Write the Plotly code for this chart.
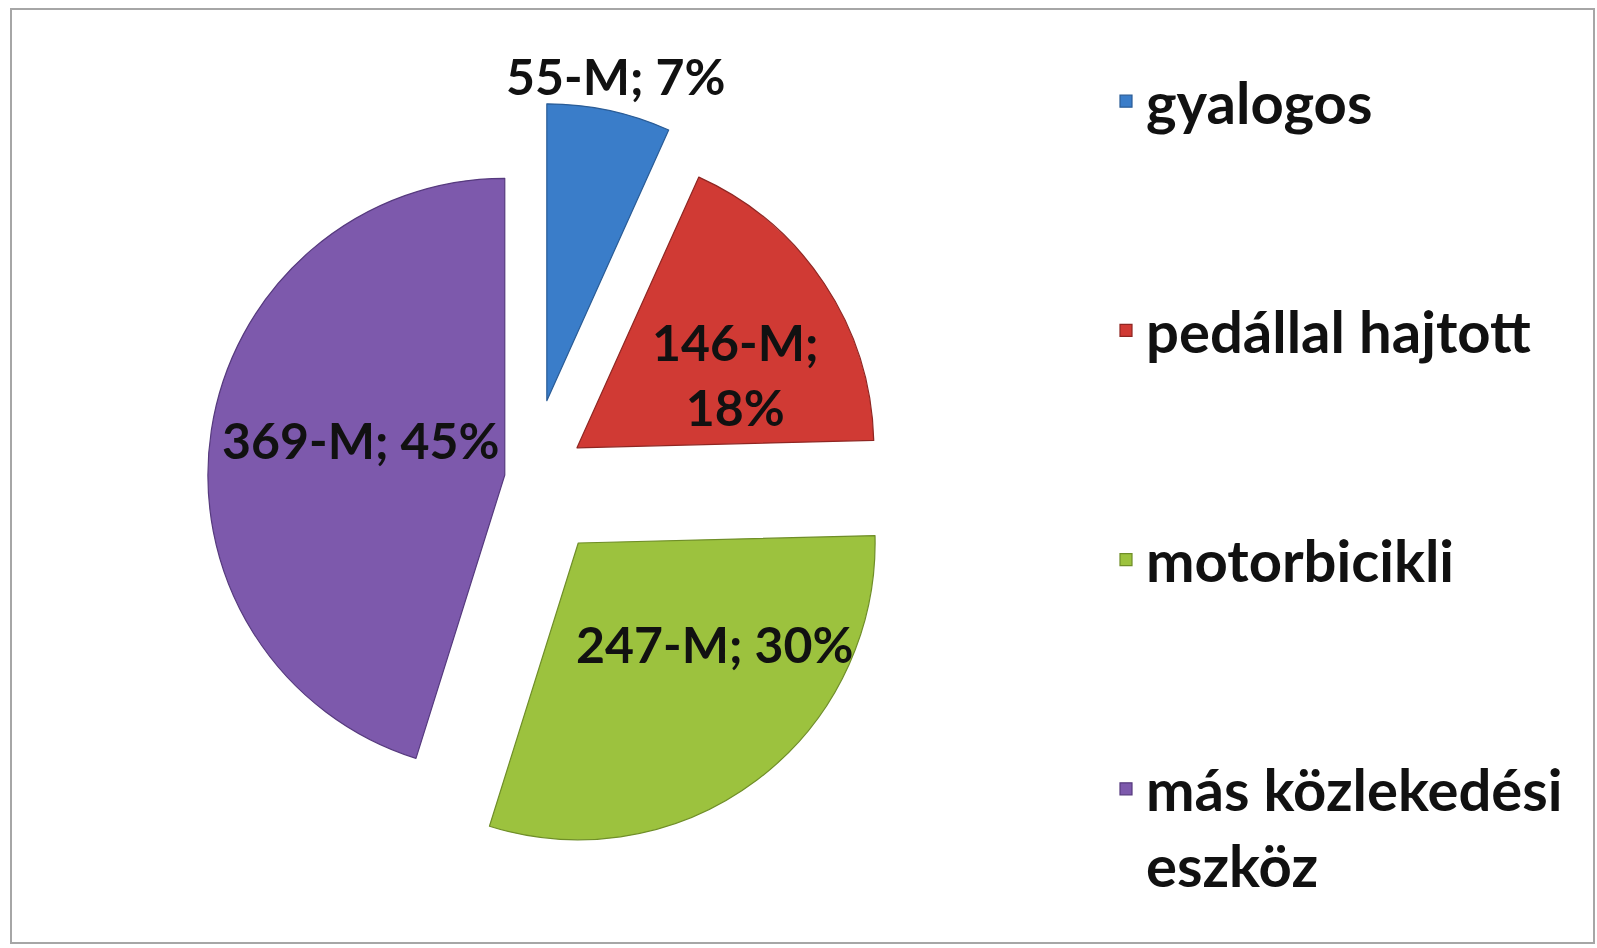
import math
import plotly.graph_objects as go

# ---- data ----
categories = ["gyalogos", "pedállal hajtott", "motorbicikli", "más közlekedési<br>eszköz"]
values = [55, 146, 247, 369]
unit = "M"
value_pct_sep = [" ", "<br>", " ", " "]

# ---- style ----
colors = ["#3A7DC9", "#D03A34", "#9CC23E", "#7D59AC"]
edge_colors = ["#2A5C96", "#8F2622", "#6F8E28", "#563A7E"]
pulls = [0.27, 0.19, 0.27, 0.086]
# label placement relative to each (pulled) slice tip: radius fraction and angle offset (deg)
label_rho = [1.118, 0.586, 0.572, 0.50]
label_dtheta = [0.0, 8.8, -16.6, 4.9]

W, H = 1597, 948
DOM_X = [153 / W, 907 / W]
DOM_Y = [92 / H, 846 / H]

total = sum(values)
texts = [f"{v}-{unit};{sep}{round(100 * v / total)}%" for v, sep in zip(values, value_pct_sep)]

# pad legend entries (except the last) so the entries are spaced like the original
LEGEND_LINES = 3
legend_labels = [
    c + ("<br> " * (LEGEND_LINES - 1 - c.count("<br>")) if i < len(categories) - 1 else "")
    for i, c in enumerate(categories)
]

fig = go.Figure(
    go.Pie(
        labels=legend_labels,
        values=values,
        sort=False,
        direction="clockwise",
        rotation=0,
        pull=pulls,
        textinfo="none",
        marker=dict(colors=colors, line=dict(color=edge_colors, width=1.2)),
        domain=dict(x=DOM_X, y=DOM_Y),
        hoverinfo="skip",
    )
)

# ---- data labels, placed with the same geometry plotly uses for the pie ----
cx = W * (DOM_X[0] + DOM_X[1]) / 2
cy = H * (1 - (DOM_Y[0] + DOM_Y[1]) / 2)
r = min(W * (DOM_X[1] - DOM_X[0]), H * (DOM_Y[1] - DOM_Y[0])) / (2 + 2 * max(pulls))

annotations = []
cum = 0.0
for v, t, p, rho, dth in zip(values, texts, pulls, label_rho, label_dtheta):
    mid = (cum + v / 2) / total * 360.0
    cum += v
    a = math.radians(mid)
    tipx = cx + p * r * math.sin(a)
    tipy = cy - p * r * math.cos(a)
    b = math.radians(mid + dth)
    lx = tipx + rho * r * math.sin(b)
    ly = tipy - rho * r * math.cos(b)
    annotations.append(
        dict(
            x=lx / W, y=1 - ly / H, xref="paper", yref="paper",
            text=t, showarrow=False, xanchor="center", yanchor="middle", align="center",
            font=dict(family="Lato", size=50, color="#111111", weight="bold"),
        )
    )

fig.update_layout(
    width=W,
    height=H,
    autosize=False,
    margin=dict(l=0, r=0, t=0, b=0, autoexpand=False),
    paper_bgcolor="white",
    plot_bgcolor="white",
    showlegend=True,
    legend=dict(
        x=1106 / W,
        y=1 - 57 / H,
        xanchor="left",
        yanchor="top",
        valign="top",
        maxheight=940,
        bgcolor="rgba(0,0,0,0)",
        font=dict(family="Lato", size=58, color="#111111", weight="bold"),
    ),
    annotations=annotations,
    shapes=[
        dict(
            type="rect", xref="paper", yref="paper",
            x0=11 / W, x1=1594 / W, y0=1 - 943 / H, y1=1 - 9 / H,
            line=dict(color="#A6A6A6", width=2), fillcolor="rgba(0,0,0,0)",
        )
    ],
)

fig.write_html(
    "out.html",
    config={"displayModeBar": False},
    post_script="document.body.style.margin='0';",
)
